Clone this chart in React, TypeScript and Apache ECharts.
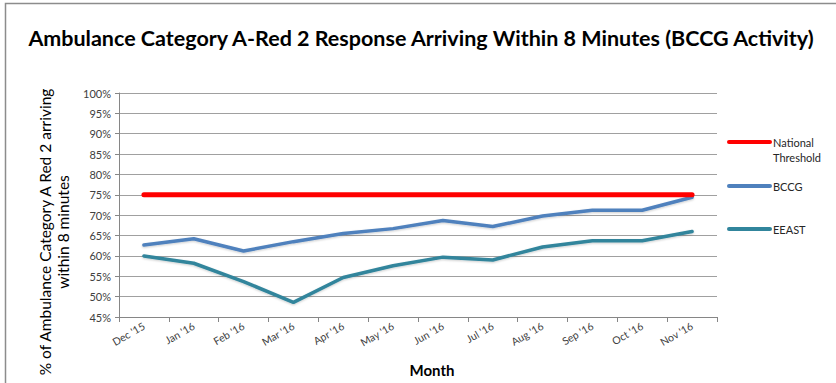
import React, { useEffect, useRef } from "react";
import * as echarts from "echarts";

const months = ["Dec '15", "Jan '16", "Feb '16", "Mar '16", "Apr '16", "May '16", "Jun '16", "Jul '16", "Aug '16", "Sep '16", "Oct '16", "Nov '16"];
const threshold = [75, 75, 75, 75, 75, 75, 75, 75, 75, 75, 75, 75];
const bccg = [62.7, 64.2, 61.2, 63.5, 65.5, 66.7, 68.7, 67.2, 69.8, 71.2, 71.2, 74.4];
const eeast = [60.0, 58.2, 53.7, 48.6, 54.7, 57.6, 59.7, 59.0, 62.2, 63.7, 63.7, 66.0];
const seriesNames = ["National Threshold", "BCCG", "EEAST"];
const legendLabels = ["National\nThreshold", "BCCG", "EEAST"];
const colors = ["#FF0000", "#4F81BD", "#31859C"];
const yTicks = { min: 45, max: 100, interval: 5 };

const FONT = "Lato, 'Noto Sans', sans-serif";

export default function App() {
  const ref = useRef<HTMLDivElement>(null);
  useEffect(() => {
    if (!ref.current) return;
    const chart = echarts.init(ref.current, null, { renderer: "svg" });
    const legendY = [142, 186, 229];
    const legendGraphics: any[] = [];
    seriesNames.forEach((n, i) => {
      legendGraphics.push({
        type: "line",
        shape: { x1: 729, y1: legendY[i], x2: 770, y2: legendY[i] },
        style: { stroke: colors[i], lineWidth: 4, lineCap: "round" },
      });
      legendGraphics.push({
        type: "text",
        x: 773,
        y: legendY[i] - 7,
        style: {
          text: legendLabels[i],
          font: `11px ${FONT}`,
          fill: "#262626",
          lineHeight: 15,
          textVerticalAlign: "top",
        },
      });
    });
    chart.setOption({
      animation: false,
      backgroundColor: "#ffffff",
      textStyle: { fontFamily: FONT },
      grid: { left: 119, right: 119, top: 93, bottom: 66, containLabel: false },
      xAxis: {
        type: "category",
        data: months,
        boundaryGap: true,
        axisLine: { lineStyle: { color: "#868686", width: 1 } },
        axisTick: { show: true, alignWithLabel: false, length: 5, lineStyle: { color: "#868686" } },
        axisLabel: { rotate: 30, fontSize: 10.5, color: "#404040", margin: 8, interval: 0, fontFamily: FONT },
      },
      yAxis: {
        type: "value",
        min: yTicks.min,
        max: yTicks.max,
        interval: yTicks.interval,
        axisLine: { show: true, lineStyle: { color: "#868686", width: 1 } },
        axisTick: { show: true, length: 4, lineStyle: { color: "#868686" } },
        splitLine: { show: true, lineStyle: { color: "#A0A0A0", width: 1 } },
        axisLabel: { formatter: "{value}%", fontSize: 11, color: "#404040", margin: 8, fontFamily: FONT },
      },
      series: [
        {
          name: seriesNames[0], type: "line", data: threshold, symbol: "none",
          lineStyle: { color: colors[0], width: 5, cap: "round" }, z: 3,
        },
        {
          name: seriesNames[1], type: "line", data: bccg, symbol: "none",
          lineStyle: { color: colors[1], width: 3.5, cap: "round", shadowColor: "rgba(0,0,0,0.2)", shadowBlur: 2, shadowOffsetY: 1 }, z: 2,
        },
        {
          name: seriesNames[2], type: "line", data: eeast, symbol: "none",
          lineStyle: { color: colors[2], width: 3.5, cap: "round", shadowColor: "rgba(0,0,0,0.2)", shadowBlur: 2, shadowOffsetY: 1 }, z: 2,
        },
      ],
      graphic: [
        {
          type: "rect",
          shape: { x: 5.5, y: 3.5, width: 900, height: 500 },
          style: { fill: "none", stroke: "#8c8c8c", lineWidth: 1.5 },
          silent: true,
        },
        {
          type: "text",
          x: 421,
          y: 38,
          style: {
            text: "Ambulance Category A-Red 2 Response Arriving Within 8 Minutes (BCCG Activity)",
            font: `bold 21.5px ${FONT}`,
            fill: "#000000",
            textAlign: "center",
            textVerticalAlign: "middle",
          },
        },
        {
          type: "text",
          x: 54,
          y: 232,
          rotation: Math.PI / 2,
          style: {
            text: "% of Ambulance Category A Red 2 arriving\nwithin 8 minutes",
            font: `15.5px ${FONT}`,
            fill: "#000000",
            textAlign: "center",
            textVerticalAlign: "middle",
            lineHeight: 18,
          },
        },
        {
          type: "text",
          x: 432,
          y: 370,
          style: {
            text: "Month",
            font: `bold 15px ${FONT}`,
            fill: "#000000",
            textAlign: "center",
            textVerticalAlign: "middle",
          },
        },
        ...legendGraphics,
      ],
    });
    return () => chart.dispose();
  }, []);
  return <div ref={ref} style={{ position: "fixed", left: 0, top: 0, width: 836, height: 383 }} />;
}
